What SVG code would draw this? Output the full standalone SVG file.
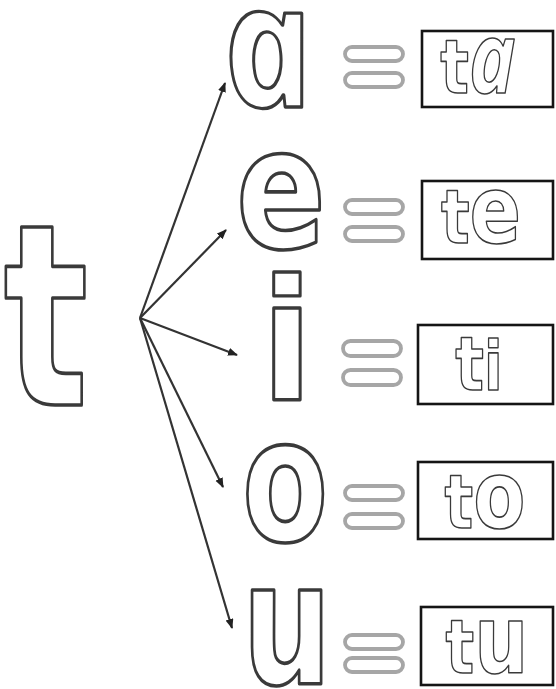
<svg xmlns="http://www.w3.org/2000/svg" width="556" height="689" viewBox="0 0 556 689">
<defs>
<style>
.big{font-family:"DejaVu Sans",sans-serif;font-weight:bold;fill:#fff;stroke:#3a3a3a;stroke-width:3.2;stroke-linejoin:round;text-anchor:middle;vector-effect:non-scaling-stroke}
.small{font-family:"DejaVu Sans",sans-serif;font-weight:bold;fill:#fff;stroke:#3a3a3a;stroke-width:1.6;stroke-linejoin:round;text-anchor:middle;vector-effect:non-scaling-stroke}
.alpha{font-family:"Open Sans",sans-serif;font-style:italic}
.eq rect{fill:#fff;stroke:#a6a6a6;stroke-width:3.8}
.box{fill:#fff;stroke:#151515;stroke-width:2.6}
.conn line{stroke:#333;stroke-width:2.2}
</style>
<marker id="ah" markerUnits="userSpaceOnUse" markerWidth="12" markerHeight="10" refX="9" refY="4" orient="auto">
<path d="M0,0 L10,4 L0,8 Z" fill="#222"/>
</marker>
</defs>
<rect width="556" height="689" fill="#fff"/>

<g id="connectors" class="conn">
<line x1="140" y1="318" x2="225" y2="83" marker-end="url(#ah)"/>
<line x1="140" y1="318" x2="226" y2="230" marker-end="url(#ah)"/>
<line x1="140" y1="318" x2="237" y2="355" marker-end="url(#ah)"/>
<line x1="140" y1="318" x2="223" y2="487" marker-end="url(#ah)"/>
<line x1="140" y1="318" x2="232" y2="628" marker-end="url(#ah)"/>
</g>

<g id="node-t">
<text class="big" font-size="254" transform="translate(46,405) scale(0.7,1)">t</text>
</g>

<g id="node-a">
<text class="big alpha" font-size="172" transform="translate(277,107) scale(0.88,1) skewX(12)">a</text>
</g>
<g id="eq-a" class="eq"><rect x="345" y="47" width="58" height="14" rx="7"/><rect x="345" y="73" width="58" height="14" rx="7"/></g>
<g id="box-ta"><rect class="box" x="422" y="31" width="131" height="76"/>
<text class="small" transform="translate(478,93) scale(0.8,1)"><tspan font-size="75">t</tspan><tspan class="alpha" font-size="98">a</tspan></text></g>

<g id="node-e">
<text class="big" font-size="168" transform="translate(281,248) scale(0.79,1)">e</text>
</g>
<g id="eq-e" class="eq"><rect x="345" y="200" width="58" height="14" rx="7"/><rect x="345" y="227" width="58" height="14" rx="7"/></g>
<g id="box-te"><rect class="box" x="422" y="181" width="131" height="78"/>
<text class="small" transform="translate(481,243) scale(0.8,1)"><tspan font-size="75">t</tspan><tspan font-size="95">e</tspan></text></g>

<g id="node-i">
<text class="big" font-size="168" transform="translate(287,400) scale(0.9,1)">i</text>
</g>
<g id="eq-i" class="eq"><rect x="343" y="341" width="58" height="15" rx="7.5"/><rect x="343" y="370" width="58" height="15" rx="7.5"/></g>
<g id="box-ti"><rect class="box" x="418" y="325" width="135" height="79"/>
<text class="small" transform="translate(479,390) scale(0.8,1)"><tspan font-size="75">t</tspan><tspan font-size="68">i</tspan></text></g>

<g id="node-o">
<text class="big" font-size="172" transform="translate(285,541) scale(0.73,1)">o</text>
</g>
<g id="eq-o" class="eq"><rect x="345" y="486" width="58" height="14" rx="7"/><rect x="345" y="514" width="58" height="14" rx="7"/></g>
<g id="box-to"><rect class="box" x="418" y="462" width="135" height="77"/>
<text class="small" transform="translate(485,528) scale(0.8,1)"><tspan font-size="75">t</tspan><tspan font-size="95">o</tspan></text></g>

<g id="node-u">
<text class="big" font-size="172" transform="translate(287,684) scale(0.73,1)">u</text>
</g>
<g id="eq-u" class="eq"><rect x="345" y="635" width="58" height="14" rx="7"/><rect x="345" y="658" width="58" height="14" rx="7"/></g>
<g id="box-tu"><rect class="box" x="421" y="607" width="132" height="78"/>
<text class="small" transform="translate(487,673) scale(0.8,1)"><tspan font-size="75">t</tspan><tspan font-size="95">u</tspan></text></g>
</svg>
